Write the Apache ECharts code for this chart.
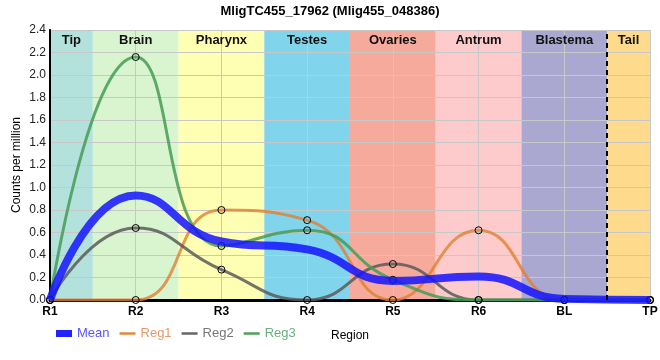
<!DOCTYPE html>
<html><head><meta charset="utf-8">
<script src="https://cdn.jsdelivr.net/npm/echarts@6/dist/echarts.min.js"></script>
<style>html,body{margin:0;padding:0;background:#fff}#c{width:660px;height:360px}</style>
</head><body><div id="c"></div>
<script>
var categories = ['R1','R2','R3','R4','R5','R6','BL','TP'];
var meanVals = [0, 0.93, 0.52, 0.45, 0.17, 0.21, 0.01, 0];
var reg1Vals = [0, 0, 0.80, 0.71, 0, 0.62, 0, 0];
var reg2Vals = [0, 0.64, 0.27, 0, 0.32, 0, 0, 0];
var reg3Vals = [0, 2.16, 0.48, 0.62, 0.18, 0, 0, 0];
var bandNames = ['Tip','Brain','Pharynx','Testes','Ovaries','Antrum','Blastema','Tail'];
var bandStart = [0, 0.5, 1.5, 2.5, 3.5, 4.5, 5.5, 6.5];
var bandEnd   = [0.5, 1.5, 2.5, 3.5, 4.5, 5.5, 6.5, 7];
var bandColors = ['#b3e2dd','#d9f5d0','#ffffb3','#80d4ec','#f5aa9c','#fdcbcb','#aaa8d0','#fedb8c'];
var yTicks = {min: 0, max: 2.4, interval: 0.2};

function pts(arr){ return arr.map(function(v,i){ return [i, v]; }); }

var areas = bandNames.map(function(n,i){
  return [{xAxis: bandStart[i], name: n, itemStyle:{color: bandColors[i]}}, {xAxis: bandEnd[i]}];
});
var labelAreas = bandNames.map(function(n,i){
  return [{xAxis: bandStart[i], name: n}, {xAxis: bandEnd[i]}];
});

var chart = echarts.init(document.getElementById('c'));
var markerStyle = {color: 'rgba(255,255,255,0)', borderColor: '#000', borderWidth: 1};
var lineIcon = 'path://M0,0h16v2.5h-16z';
chart.setOption({
  animation: false,
  title: {text: 'MligTC455_17962 (Mlig455_048386)', left: 'center', top: 0,
    textStyle: {fontSize: 13, fontWeight: 'bold', color: '#000', fontFamily: 'Liberation Sans'}},
  grid: {left: 50, right: 10, top: 30, bottom: 60, outerBoundsMode: 'none', containLabel: false},
  legend: {left: 51, top: 322, itemWidth: 16, itemHeight: 7, itemGap: 10,
    textStyle: {fontSize: 13, fontFamily: 'Liberation Sans'},
    data: [
      {name: 'Mean', icon: 'rect', itemStyle: {color: '#2222ff', borderWidth: 0}, textStyle: {color: '#5555ff'}},
      {name: 'Reg1', icon: lineIcon, itemStyle: {color: '#e08a3c', borderWidth: 0}, textStyle: {color: '#e89a6a'}},
      {name: 'Reg2', icon: lineIcon, itemStyle: {color: '#666666', borderWidth: 0}, textStyle: {color: '#777777'}},
      {name: 'Reg3', icon: lineIcon, itemStyle: {color: '#4ea05a', borderWidth: 0}, textStyle: {color: '#6ab07a'}}
    ]},
  xAxis: [{type: 'value', min: 0, max: 7, interval: 1, z: 1.5,
    name: 'Region', nameLocation: 'middle', nameGap: 30,
    nameTextStyle: {fontSize: 12, color: '#000', fontFamily: 'Liberation Sans'},
    axisLine: {lineStyle: {color: '#000', width: 3}},
    axisTick: {show: false},
    axisLabel: {formatter: function(v){ return categories[v] || ''; }, fontWeight: 'bold', fontSize: 12, color: '#000', margin: 6, fontFamily: 'Liberation Sans'},
    splitLine: {show: true, lineStyle: {color: '#c8c8c8', width: 1}}},
   {type: 'value', position: 'top', min: 0, max: 7, z: 3, axisLine: {lineStyle: {color: '#000', width: 1.5}}, axisTick: {show: false}, axisLabel: {show: false}, splitLine: {show: false}}],
  yAxis: [{type: 'value', min: yTicks.min, max: yTicks.max, interval: yTicks.interval, z: 1.5,
    name: 'Counts per million', nameLocation: 'middle', nameGap: 27, nameMoveOverlap: false,
    nameTextStyle: {fontSize: 12, color: '#000', fontFamily: 'Liberation Sans'},
    axisLine: {show: true, lineStyle: {color: '#000', width: 2}},
    axisTick: {show: false},
    axisLabel: {formatter: function(v){ return v.toFixed(1); }, fontSize: 12, color: '#222', margin: 4, fontFamily: 'Liberation Sans'},
    splitLine: {show: true, lineStyle: {color: '#c8c8c8', width: 1}}},
   {type: 'value', position: 'right', min: yTicks.min, max: yTicks.max, z: 3, axisLine: {show: true, lineStyle: {color: '#000', width: 1.5}}, axisTick: {show: false}, axisLabel: {show: false}, splitLine: {show: false}}],
  series: [
    {name: 'bands', type: 'line', data: [], silent: true,
     markArea: {silent: true, z: 1, label: {show: false}, data: areas},
     markLine: {silent: true, symbol: 'none', label: {show: false}, lineStyle: {color: '#000', type: [5, 4], width: 2}, data: [{xAxis: 6.5}]}},
    {name: 'bandLabels', type: 'line', data: [], silent: true,
     markArea: {silent: true, z: 2, itemStyle: {color: 'rgba(0,0,0,0)'},
       label: {show: true, position: 'insideTop', distance: 4, fontWeight: 'bold', fontSize: 13, color: '#111', fontFamily: 'Liberation Sans'}, data: labelAreas}},
    {name: 'Reg1', type: 'line', data: pts(reg1Vals), smooth: 0.5, symbol: 'circle', symbolSize: 7, z: 3,
     lineStyle: {color: 'rgba(224,128,50,0.8)', width: 3}, itemStyle: markerStyle, color: '#e08a3c'},
    {name: 'Reg2', type: 'line', data: pts(reg2Vals), smooth: 0.5, symbol: 'circle', symbolSize: 7, z: 3,
     lineStyle: {color: 'rgba(90,90,90,0.85)', width: 3}, itemStyle: markerStyle, color: '#666666'},
    {name: 'Reg3', type: 'line', data: pts(reg3Vals), smooth: 0.5, symbol: 'circle', symbolSize: 7, z: 3,
     lineStyle: {color: 'rgba(70,155,85,0.85)', width: 3}, itemStyle: markerStyle, color: '#4ea05a'},
    {name: 'Mean', type: 'line', data: pts(meanVals), smooth: 0.5, symbol: 'none', z: 4,
     lineStyle: {color: 'rgba(20,20,255,0.85)', width: 8}, color: '#1a1aff'}
  ]
});
</script></body></html>
